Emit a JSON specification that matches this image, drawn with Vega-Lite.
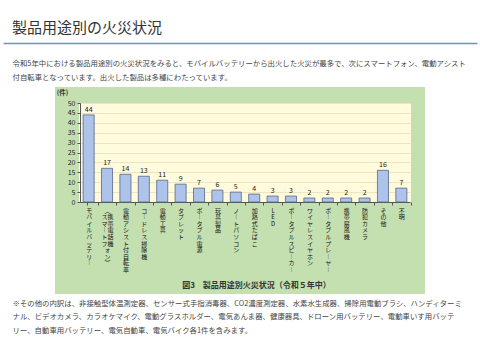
{
  "$schema": "https://vega.github.io/schema/vega-lite/v6.json",
  "width": 370,
  "height": 207,
  "autosize": {"type": "none"},
  "padding": {"left": 55, "top": 87, "right": 55, "bottom": 66},
  "background": "#ffffff",
  "config": {
    "view": {"fill": "#c5e0b0", "stroke": null},
    "font": "Noto Sans CJK JP"
  },
  "title": {
    "text": "製品用途別の火災状況",
    "anchor": "start",
    "frame": "group",
    "dx": -43,
    "dy": 12,
    "offset": 4,
    "baseline": "bottom",
    "fontSize": 15,
    "fontWeight": "normal",
    "color": "#333333",
    "font": "Noto Sans CJK JP"
  },
  "data": {
    "values": [
      {"用途": "モバイルバッテリー", "件数": 44},
      {"用途": "携帯電話機（スマートフォン）", "件数": 17},
      {"用途": "電動アシスト付自転車", "件数": 14},
      {"用途": "コードレス掃除機", "件数": 13},
      {"用途": "電動工具", "件数": 11},
      {"用途": "タブレット", "件数": 9},
      {"用途": "ポータブル電源", "件数": 7},
      {"用途": "玩具製品", "件数": 6},
      {"用途": "ノートパソコン", "件数": 5},
      {"用途": "加熱式たばこ", "件数": 4},
      {"用途": "LED", "件数": 3},
      {"用途": "ポータブルスピーカー", "件数": 3},
      {"用途": "ワイヤレスイヤホン", "件数": 2},
      {"用途": "ポータブルプレーヤー", "件数": 2},
      {"用途": "携帯扇風機", "件数": 2},
      {"用途": "防犯カメラ", "件数": 2},
      {"用途": "その他", "件数": 16},
      {"用途": "不明", "件数": 7}
    ]
  },
  "layer": [
    {
      "layer": [
        {
          "mark": {"type": "bar", "fill": "#adc3ea", "stroke": "#55678c", "strokeWidth": 0.8},
          "encoding": {
            "x": {
              "field": "用途",
              "type": "nominal",
              "sort": null,
              "scale": {"range": [25, 355], "paddingInner": 0.4, "paddingOuter": 0.17},
              "axis": {
                "orient": "top",
                "grid": true,
                "gridColor": "#fffbdc",
                "gridWidth": 19,
                "bandPosition": 0.5,
                "labels": false,
                "ticks": false,
                "domain": false,
                "title": null
              }
            },
            "y": {
              "field": "件数",
              "type": "quantitative",
              "scale": {"domain": [0, 50], "range": [115, 16], "nice": false},
              "axis": {
                "orient": "left",
                "values": [5, 10, 15, 20, 25, 30, 35, 40, 45, 50],
                "grid": true,
                "gridColor": "#ece6c0",
                "gridWidth": 1,
                "labels": false,
                "ticks": false,
                "domain": false,
                "title": null
              }
            }
          }
        },
        {
          "mark": {"type": "text", "baseline": "bottom", "dy": -2, "fontSize": 7, "color": "#222222"},
          "encoding": {
            "x": {
              "field": "用途",
              "type": "nominal",
              "sort": null,
              "axis": {
                "orient": "bottom",
                "offset": -92,
                "grid": false,
                "ticks": true,
                "tickSize": 3,
                "tickColor": "#555555",
                "bandPosition": 1,
                "tickExtra": true,
                "tickOffset": 3.7,
                "labelOffset": -3.7,
                "domainColor": "#555555",
                "domainWidth": 1,
                "labelAngle": 0,
                "labelAlign": "center",
                "labelBaseline": "top",
                "labelPadding": 2,
                "labelFontSize": 6,
                "labelLineHeight": 6.6,
                "labelColor": "#111111",
                "labelFontWeight": "normal",
                "labelOverlap": false,
                "labelFlush": false,
                "labelExpr": "!isValid(datum.value) ? '' : datum.value == '携帯電話機（スマートフォン）' ? ['︵　', 'ス携', 'マ帯', '︱電', 'ト話', 'フ機', 'ォ　', 'ン　', '︶　'] : split(replace(datum.value, regexp('ー', 'g'), '︱'), '')",
                "title": "図3　製品用途別火災状況（令和５年中）",
                "titleX": 201,
                "titleY": 83,
                "titleAlign": "center",
                "titleBaseline": "middle",
                "titleFontSize": 8,
                "titleFontWeight": "bold",
                "titleColor": "#333333"
              }
            },
            "y": {
              "field": "件数",
              "type": "quantitative",
              "axis": {
                "orient": "left",
                "offset": -25,
                "values": [0, 5, 10, 15, 20, 25, 30, 35, 40, 45, 50],
                "grid": false,
                "domainColor": "#555555",
                "tickColor": "#555555",
                "tickSize": 3,
                "labelFontSize": 7,
                "labelColor": "#222222",
                "labelPadding": 2,
                "title": "(件)",
                "titleAngle": 0,
                "titleX": -18,
                "titleY": 5,
                "titleAlign": "center",
                "titleBaseline": "middle",
                "titleFontSize": 6.5,
                "titleFontWeight": "bold",
                "titleColor": "#333333"
              }
            },
            "text": {"field": "件数"}
          }
        }
      ],
      "resolve": {"axis": {"x": "independent", "y": "independent"}}
    },
    {
      "mark": {"type": "point", "opacity": 0},
      "encoding": {
        "x": {
          "field": "件数",
          "type": "quantitative",
          "scale": {"range": [-52, 422]},
          "axis": {
            "orient": "top",
            "offset": 44,
            "grid": false,
            "labels": false,
            "ticks": false,
            "domainColor": "#5aa0b4",
            "domainWidth": 1.5,
            "title": ["令和5年中における製品用途別の火災状況をみると、モバイルバッテリーから出火した火災が最多で、次にスマートフォン、電動アシスト", "付自転車となっています。出火した製品は多種にわたっています。"],
            "titleX": -43,
            "titleY": 16,
            "titleAlign": "left",
            "titleBaseline": "top",
            "titleFontSize": 7.4,
            "titleFontWeight": "normal",
            "titleColor": "#444444",
            "titleLineHeight": 14,
            "titleLimit": 1000
          }
        },
        "y": {
          "field": "件数",
          "type": "quantitative",
          "axis": {
            "orient": "right",
            "grid": false,
            "labels": false,
            "ticks": false,
            "domain": false,
            "title": ["※その他の内訳は、非接触型体温測定器、センサー式手指消毒器、CO2濃度測定器、水素水生成器、掃除用電動ブラシ、ハンディターミ", "　　ナル、ビデオカメラ、カラオケマイク、電動グラスホルダー、電気あんま器、健康器具、ドローン用バッテリー、電動車いす用バッテ", "　　リー、自動車用バッテリー、電気自動車、電気バイク各1件を含みます。"],
            "titleAngle": 0,
            "titleX": -413,
            "titleY": 212,
            "titleAlign": "left",
            "titleBaseline": "top",
            "titleFontSize": 7.4,
            "titleFontWeight": "normal",
            "titleColor": "#444444",
            "titleLineHeight": 13.5,
            "titleLimit": 1000
          }
        }
      }
    }
  ],
  "resolve": {"scale": {"x": "independent", "y": "independent"}}
}
